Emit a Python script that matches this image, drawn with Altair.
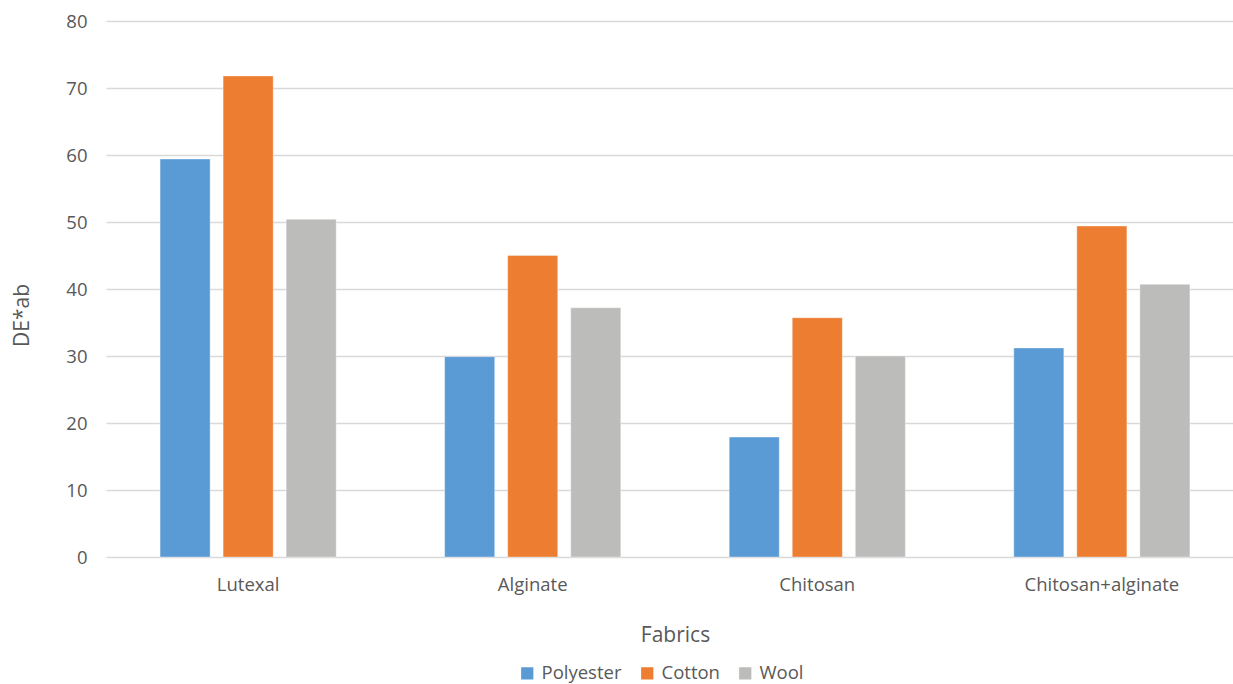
import altair as alt
import pandas as pd

fabrics = ["Lutexal", "Alginate", "Chitosan", "Chitosan+alginate"]
series = ["Polyester", "Cotton", "Wool"]
polyester = [59.4, 29.9, 17.9, 31.2]
cotton = [71.8, 45.0, 35.7, 49.4]
wool = [50.4, 37.2, 30.0, 40.7]
colors = ["#5B9BD5", "#ED7D31", "#BCBCBA"]

rows = []
for i, f in enumerate(fabrics):
    for s, vals in zip(series, [polyester, cotton, wool]):
        rows.append({"Fabric": f, "Series": s, "Value": vals[i]})
df = pd.DataFrame(rows)

font = "Open Sans"
grey = "#595959"

chart = alt.Chart(df).mark_bar(stroke="white", strokeWidth=0.6, strokeOpacity=0.6).encode(
    x=alt.X("Fabric:N", sort=fabrics,
            scale=alt.Scale(range=[0, 1138], paddingInner=0.381, paddingOuter=0.19),
            axis=alt.Axis(title="Fabrics", labelAngle=0, domain=False, ticks=False, grid=False,
                          labelFont=font, labelFontSize=18.5, labelColor=grey, labelPadding=18,
                          titleFont=font, titleFontSize=21, titleFontWeight="normal",
                          titleColor=grey, titleY=78, titleBaseline="middle")),
    xOffset=alt.XOffset("Series:N", sort=series,
                        scale=alt.Scale(paddingInner=0.206, paddingOuter=0)),
    y=alt.Y("Value:Q", scale=alt.Scale(domain=[0, 80]),
            axis=alt.Axis(title="DE*ab", values=list(range(0, 81, 10)), domain=False, ticks=False,
                          labelFont=font, labelFontSize=18.5, labelColor=grey, labelPadding=19,
                          gridColor="#D9D9D9", gridWidth=1.3,
                          titleFont=font, titleFontSize=21, titleFontWeight="normal",
                          titleColor=grey, titleX=-84, titleY=294, titleAlign="center",
                          titleBaseline="middle")),
    color=alt.Color("Series:N", sort=series,
                    scale=alt.Scale(domain=series, range=colors),
                    legend=alt.Legend(title=None, orient="none", direction="horizontal",
                                      legendX=412, legendY=643, symbolType="square",
                                      symbolSize=150, symbolStrokeWidth=0, symbolOpacity=1,
                                      labelFont=font, labelFontSize=18.5, labelColor=grey,
                                      columnPadding=16, labelOffset=5)),
).properties(
    width=1127, height=536,
    background="white",
    autosize=alt.AutoSizeParams(type="none"),
    padding={"left": 106, "top": 21, "right": 0, "bottom": 127},
).configure_view(stroke=None)

chart.save("out.html", embed_options={"renderer": "svg", "actions": False})
